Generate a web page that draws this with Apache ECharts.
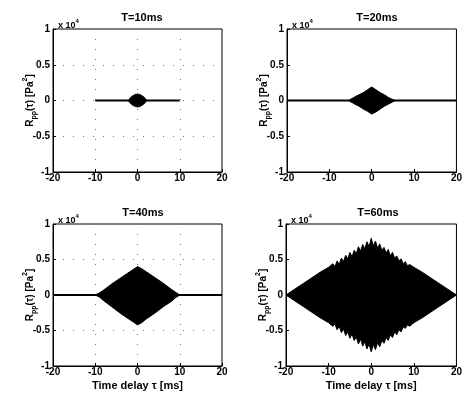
<!DOCTYPE html>
<html><head><meta charset="utf-8">
<script src="https://cdn.jsdelivr.net/npm/echarts@6/dist/echarts.min.js"></script>
<style>html,body{margin:0;padding:0;background:#fff}#c{width:465px;height:396px}</style>
</head><body><div id="c"></div>
<script>
// ---- data (values in units of 10^4 Pa^2, tau in ms) ----
const panelTitles = ['T=10ms', 'T=20ms', 'T=40ms', 'T=60ms'];
const xTickValues = [-20, -10, 0, 10, 20];
const yTickValues = [-1, -0.5, 0, 0.5, 1];

// zero baseline extent of each record
const baseline10 = [-10, 10];
const baseline20 = [-20, 20];
const baseline40 = [-20, 20];
const baseline60 = [-20, 20];

// envelope of the oscillating correlation (upper / lower)
const tau10   = [-2.2, -1.5, -1, -0.5, 0, 0.5, 1, 1.5, 2.2];
const upper10 = [0, 0.05, 0.07, 0.085, 0.09, 0.085, 0.07, 0.05, 0];
const lower10 = [0, -0.05, -0.07, -0.085, -0.09, -0.085, -0.07, -0.05, 0];

const tau20   = [-5.5, -4, -3, -2, -1, 0, 1, 2, 3, 4, 5.5];
const upper20 = [0, 0.05, 0.08, 0.11, 0.15, 0.19, 0.15, 0.11, 0.08, 0.04, 0];
const lower20 = [0, -0.05, -0.08, -0.12, -0.15, -0.19, -0.16, -0.12, -0.08, -0.05, 0];

const tau40   = [-10, -9, -8, -6, -4, -2, -1, 0, 1, 2, 4, 6, 8, 9, 10];
const upper40 = [0, 0.03, 0.07, 0.16, 0.24, 0.32, 0.36, 0.40, 0.37, 0.33, 0.25, 0.17, 0.08, 0.04, 0];
const lower40 = [0, -0.03, -0.08, -0.17, -0.26, -0.34, -0.38, -0.42, -0.39, -0.34, -0.26, -0.17, -0.09, -0.04, 0];

const tau60   = [-20, -18, -16, -14, -12, -10,
  -9, -8.5, -8, -7.5, -7, -6.5, -6, -5.5, -5, -4.5, -4, -3.5, -3, -2.5, -2, -1.5, -1, -0.5,
  0, 0.5, 1, 1.5, 2, 2.5, 3, 3.5, 4, 4.5, 5, 5.5, 6, 6.5, 7, 7.5, 8, 8.5, 9,
  10, 12, 14, 16, 18, 20];
const upper60 = [0, 0.08, 0.16, 0.24, 0.32, 0.39,
  0.44, 0.40, 0.48, 0.43, 0.52, 0.47, 0.56, 0.51, 0.60, 0.54, 0.63, 0.58, 0.68, 0.62, 0.71, 0.65, 0.75, 0.68,
  0.80, 0.69, 0.76, 0.66, 0.72, 0.63, 0.67, 0.59, 0.64, 0.55, 0.60, 0.52, 0.55, 0.48, 0.51, 0.44, 0.47, 0.41, 0.43,
  0.39, 0.32, 0.24, 0.16, 0.08, 0];
const lower60 = [0, -0.08, -0.16, -0.24, -0.32, -0.39,
  -0.44, -0.41, -0.49, -0.44, -0.53, -0.48, -0.57, -0.52, -0.61, -0.55, -0.64, -0.59, -0.69, -0.62, -0.72, -0.66, -0.76, -0.69,
  -0.80, -0.70, -0.77, -0.67, -0.73, -0.64, -0.68, -0.60, -0.64, -0.56, -0.60, -0.52, -0.56, -0.49, -0.52, -0.45, -0.47, -0.42, -0.44,
  -0.39, -0.32, -0.24, -0.16, -0.08, 0];

// ---- chart ----
const FONT = 'Liberation Sans, Arial, Helvetica, sans-serif';
const panels = [
  {baseline: baseline10, tau: tau10, up: upper10, lo: lower10, grid: true},
  {baseline: baseline20, tau: tau20, up: upper20, lo: lower20, grid: false},
  {baseline: baseline40, tau: tau40, up: upper40, lo: lower40, grid: true},
  {baseline: baseline60, tau: tau60, up: upper60, lo: lower60, grid: false}
];
const layout = [
  {left: 53, top: 29, width: 169, height: 143, cx: 137, ty: 7},
  {left: 287, top: 29, width: 170, height: 143, cx: 372, ty: 7},
  {left: 53, top: 224, width: 169, height: 142, cx: 138, ty: 202},
  {left: 286, top: 224, width: 171, height: 142, cx: 373, ty: 202}
];
const zip = (a, b) => a.map((v, i) => [v, b[i]]);

const grids = [], xAxes = [], yAxes = [], series = [], titles = [];
layout.forEach((L, i) => {
  const P = panels[i];
  grids.push({left: L.left, top: L.top, width: L.width, height: L.height,
    show: true, borderColor: '#000', borderWidth: 1, backgroundColor: 'transparent'});
  const splitLine = {show: P.grid, lineStyle: {color: '#777', width: 1, type: [1, 9]}};
  xAxes.push({type: 'value', gridIndex: i, min: xTickValues[0], max: xTickValues[xTickValues.length - 1],
    interval: xTickValues[1] - xTickValues[0],
    axisLine: {show: true, onZero: false, lineStyle: {color: '#000', width: 1}},
    axisTick: {show: true, inside: true, length: 3, lineStyle: {color: '#000'}},
    axisLabel: {color: '#000', fontSize: 10, fontWeight: 'bold', fontFamily: FONT, margin: 1},
    splitLine: splitLine,
    name: i >= 2 ? 'Time delay τ [ms]' : '', nameLocation: 'middle', nameGap: 14, nameMoveOverlap: false,
    nameTextStyle: {color: '#000', fontSize: 11, fontWeight: 'bold', fontFamily: FONT}
  });
  yAxes.push({type: 'value', gridIndex: i, min: yTickValues[0], max: yTickValues[yTickValues.length - 1],
    interval: yTickValues[1] - yTickValues[0],
    axisLine: {show: true, onZero: false, lineStyle: {color: '#000', width: 1}},
    axisTick: {show: true, inside: true, length: 3, lineStyle: {color: '#000'}},
    axisLabel: {color: '#000', fontSize: 10, fontWeight: 'bold', fontFamily: FONT, margin: 3},
    splitLine: splitLine,
    name: '{a|R}{s|pp}{a|(τ) [Pa}{p|2}{a|]}', nameLocation: 'middle', nameGap: 15, nameRotate: 90,
    nameMoveOverlap: false,
    nameTextStyle: {color: '#000', fontFamily: FONT, fontWeight: 'bold',
      rich: {
        a: {fontSize: 10, fontWeight: 'bold', fontFamily: FONT, color: '#000', lineHeight: 16, verticalAlign: 'middle'},
        s: {fontSize: 7, fontWeight: 'bold', fontFamily: FONT, color: '#000', lineHeight: 16, verticalAlign: 'bottom'},
        p: {fontSize: 7, fontWeight: 'bold', fontFamily: FONT, color: '#000', lineHeight: 16, verticalAlign: 'top'}
      }}
  });
  series.push({type: 'line', xAxisIndex: i, yAxisIndex: i, symbol: 'none', silent: true,
    data: zip(P.baseline, [0, 0]), lineStyle: {color: '#000', width: 2}, z: 3});
  series.push({type: 'line', xAxisIndex: i, yAxisIndex: i, symbol: 'none', silent: true,
    data: zip(P.tau, P.up), lineStyle: {color: '#000', width: 1},
    areaStyle: {color: '#000', opacity: 1}, z: 4});
  series.push({type: 'line', xAxisIndex: i, yAxisIndex: i, symbol: 'none', silent: true,
    data: zip(P.tau, P.lo), lineStyle: {color: '#000', width: 1},
    areaStyle: {color: '#000', opacity: 1}, z: 4});
  titles.push({text: panelTitles[i], left: L.cx, top: L.ty, textAlign: 'center',
    textStyle: {color: '#000', fontSize: 11, fontWeight: 'bold', fontFamily: FONT}});
  titles.push({text: '{a|x 10}{p|4}', left: L.left, top: L.top - 16,
    textStyle: {rich: {
      a: {fontSize: 9, fontWeight: 'bold', fontFamily: FONT, color: '#000', lineHeight: 12, verticalAlign: 'bottom'},
      p: {fontSize: 6, fontWeight: 'bold', fontFamily: FONT, color: '#000', lineHeight: 12, verticalAlign: 'top'}
    }}});
});

const chart = echarts.init(document.getElementById('c'), null, {renderer: 'canvas'});
chart.setOption({
  animation: false,
  backgroundColor: '#fff',
  title: titles,
  grid: grids,
  xAxis: xAxes,
  yAxis: yAxes,
  series: series
});
</script>
</body></html>
